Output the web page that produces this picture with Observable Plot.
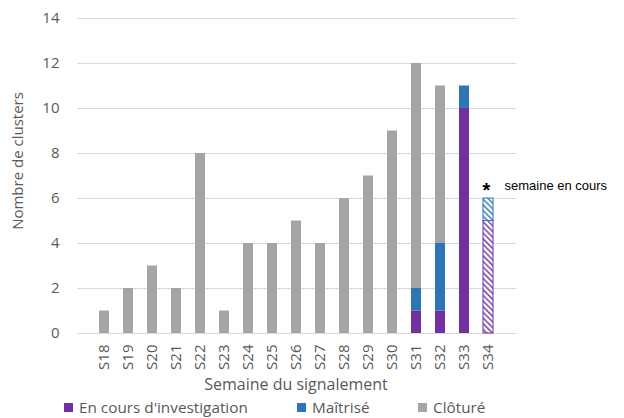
<!DOCTYPE html>
<html>
<head>
<meta charset="utf-8">
<script src="https://cdn.jsdelivr.net/npm/d3@7"></script>
<script src="https://cdn.jsdelivr.net/npm/@observablehq/plot@0.6"></script>
<style>
  body { margin: 0; background: #fff; font-family: "Open Sans", sans-serif; }
  #legend { position: relative; height: 23px; font-size: 15.3px; color: #595959; }
  .item { position: absolute; top: 2px; display: flex; align-items: center; white-space: nowrap; }
  .sw { width: 9px; height: 9px; margin-right: 6px; display: inline-block; }
</style>
</head>
<body>
<div id="chart"></div>
<div id="legend"></div>
<script>
const weeks = ["S18","S19","S20","S21","S22","S23","S24","S25","S26","S27","S28","S29","S30","S31","S32","S33","S34"];
const enCours  = [0,0,0,0,0,0,0,0,0,0,0,0,0,1,1,10,5];
const maitrise = [0,0,0,0,0,0,0,0,0,0,0,0,0,1,3,1,1];
const cloture  = [1,2,3,2,8,1,4,4,5,4,6,7,9,10,7,0,0];
const seriesNames = ["En cours d'investigation","Maîtrisé","Clôturé"];
const seriesColors = ["#7030A0","#2E75B6","#A5A5A5"];
const currentWeek = "S34";
const yTicks = [0,2,4,6,8,10,12,14];

const seriesValues = [enCours, maitrise, cloture];
const rows = [];
seriesNames.forEach((s, si) => {
  weeks.forEach((w, wi) => {
    const v = seriesValues[si][wi];
    if (v > 0) rows.push({week: w, series: s, value: v});
  });
});
const doneRows = rows.filter(d => d.week !== currentWeek);
const curRows = rows.filter(d => d.week === currentWeek);
const curTotal = d3.sum(curRows, d => d.value);

const patId = c => "hatch-" + c.replace("#","");

const plot = Plot.plot({
  width: 624,
  height: 395,
  marginLeft: 77,
  marginRight: 108,
  marginTop: 18,
  marginBottom: 62,
  style: {fontFamily: "Open Sans, sans-serif", fontSize: "15px", color: "#595959", background: "#fff"},
  x: {domain: weeks, padding: 0.57, label: null},
  y: {domain: [0, 14], label: null},
  color: {domain: seriesNames, range: seriesColors},
  marks: [
    Plot.gridY(yTicks, {stroke: "#D9D9D9", strokeOpacity: 1}),
    Plot.axisY(yTicks, {tickSize: 0, tickPadding: 18, fontSize: 15, label: null}),
    Plot.axisX({tickSize: 0, tickPadding: 11, tickRotate: -90, fontSize: 15, label: null}),
    Plot.text(["Nombre de clusters"], {frameAnchor: "left", textAnchor: "middle", dx: -59, dy: -15, rotate: -90, fontSize: 15, fill: "#595959"}),
    Plot.barY(doneRows, {x: "week", y: "value", fill: "series"}),
    Plot.barY(curRows, {x: "week", y: "value", fill: "series",
      render(index, scales, values, dims, ctx, next) {
        const g = next(index, scales, values, dims, ctx);
        d3.select(g).selectAll("rect").each(function() {
          const c = this.getAttribute("fill");
          this.setAttribute("fill", `url(#${patId(c)})`);
          this.setAttribute("stroke", c);
          this.setAttribute("stroke-width", 1);
        });
        return g;
      }
    }),
    Plot.text([{week: currentWeek, y: curTotal}], {x: "week", y: "y", text: () => "*", dy: -8, dx: -2, fontSize: 20, fontWeight: "bold", fontFamily: "Liberation Sans, Arial, sans-serif", fill: "#000"}),
    Plot.text([{week: currentWeek, y: curTotal}], {x: "week", y: "y", text: () => "semaine en cours", dy: -13, dx: 16, textAnchor: "start", fontSize: 13, fontFamily: "Liberation Sans, Arial, sans-serif", fill: "#000"})
  ]
});

// hatch patterns
const defs = d3.select(plot).insert("defs", ":first-child");
seriesColors.forEach(c => {
  const p = defs.append("pattern").attr("id", patId(c)).attr("patternUnits", "userSpaceOnUse")
    .attr("width", 4).attr("height", 4).attr("patternTransform", "rotate(-45)");
  p.append("rect").attr("width", 4).attr("height", 4).attr("fill", "#fff");
  p.append("rect").attr("width", 1.4).attr("height", 4).attr("fill", c);
});

// x axis title
d3.select(plot).append("text")
  .attr("x", 296).attr("y", 390)
  .attr("text-anchor", "middle").attr("fill", "#595959")
  .attr("font-size", 16).text("Semaine du signalement");

document.getElementById("chart").appendChild(plot);

const legend = document.getElementById("legend");
const lefts = [64, 297, 418];
seriesNames.forEach((s, i) => {
  const it = document.createElement("div");
  it.className = "item";
  it.style.left = lefts[i] + "px";
  it.innerHTML = `<span class="sw" style="background:${seriesColors[i]}"></span>${s}`;
  legend.appendChild(it);
});
</script>
</body>
</html>
